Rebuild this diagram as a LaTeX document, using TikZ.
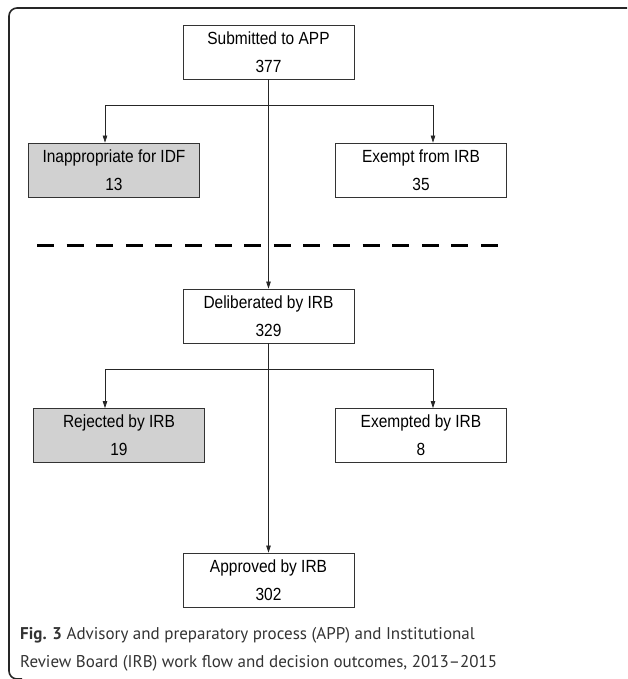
\documentclass[tikz,border=0pt]{standalone}
\usepackage{fontspec}
\usetikzlibrary{arrows.meta, positioning}
\newfontfamily\boxfont[FakeStretch=0.88]{Liberation Sans}
\newfontfamily\capfont{PT Sans}

\tikzset{
    stage/.style={draw=black!80, line width=0.8pt, minimum width=171pt, minimum height=54pt,
        inner sep=0pt, align=center, font=\boxfont\fontsize{17.6}{28}\selectfont},
    dropped/.style={stage, fill=black!18},
    flow/.style={-{Triangle[length=7pt, width=4.5pt]}, line width=0.7pt, black!85}
}

\begin{document}
\begin{tikzpicture}[x=1pt, y=-1pt]
            \useasboundingbox (0, 0) rectangle (627, 679);
            \draw[line width=1.6pt, black!85, rounded corners=8pt] (627, 8) -- (9, 8) -- (9, 679) -- (22, 679);

            \node[stage] (submitted) at (268.5, 52) {Submitted to APP\\377};
            \node[dropped] (inapp) at (114, 170) {Inappropriate for IDF\\13};
            \node[stage] (exempt) at (421, 170) {Exempt from IRB\\35};
            \node[stage] (deliberated) at (268.5, 316) {Deliberated by IRB\\329};
            \node[dropped] (rejected) at (119, 435.5) {Rejected by IRB\\19};
            \node[stage] (exempted) at (421, 435.5) {Exempted by IRB\\8};
            \node[stage] (approved) at (268.5, 580) {Approved by IRB\\302};

            \coordinate (split1) at (268.5, 105);
            \coordinate (split2) at (268.5, 369);
            \coordinate (sepL) at (37, 245.5);
            \coordinate (sepR) at (498, 245.5);

            \draw[line width=3pt, dash pattern=on 17pt off 12.6pt] (sepL) -- (sepR);

            \draw[flow] (submitted) -- (deliberated);
            \draw[flow] (split1) -| ([xshift=-9pt]inapp.north);
            \draw[flow] (split1) -| ([xshift=12pt]exempt.north);
            \draw[flow] (deliberated) -- (approved);
            \draw[flow] (split2) -| ([xshift=-14pt]rejected.north);
            \draw[flow] (split2) -| ([xshift=12pt]exempted.north);

            \node[anchor=base west, align=left, inner sep=0pt, text=black!80, font=\capfont\fontsize{17}{28}\selectfont] (caption) at (20, 667)
                {\textbf{Fig. 3} Advisory and preparatory process (APP) and Institutional\\Review Board (IRB) work flow and decision outcomes, 2013–2015};
        \end{tikzpicture}
\end{document}
